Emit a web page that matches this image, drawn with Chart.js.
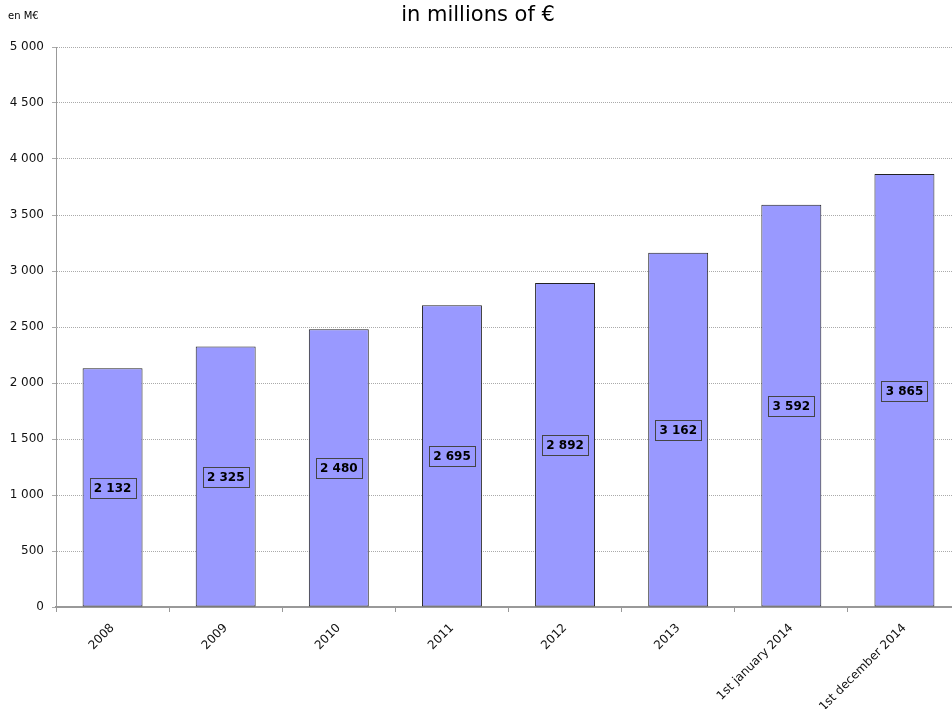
<html>
<head>
  <title>Chart</title>
  <script src="https://cdn.jsdelivr.net/npm/chart.js"></script>
  <style>
    body { margin: 0; background: #fff; overflow: hidden; }
    #wrap { width: 961px; height: 709px; }
  </style>
</head>
<body>
  <div id="wrap"><canvas id="barChart"></canvas></div>

  <script>
    // Chart data
    const categories = ['2008', '2009', '2010', '2011', '2012', '2013', '1st january 2014', '1st december 2014'];
    const values = [2132, 2325, 2480, 2695, 2892, 3162, 3592, 3865];
    const yTicks = [0, 500, 1000, 1500, 2000, 2500, 3000, 3500, 4000, 4500, 5000];

    const tickFont = { family: 'DejaVu Sans', size: 12 };

    // format 3865 -> "3 865"
    function fmt(v) {
      return String(v).replace(/\B(?=(\d{3})+(?!\d))/g, ' ');
    }

    // boxed value labels in the middle of each bar + header texts
    const labelPlugin = {
      id: 'labels',
      afterDatasetsDraw(chart) {
        const ctx = chart.ctx;
        const meta = chart.getDatasetMeta(0);
        const yScale = chart.scales.y;
        ctx.save();
        ctx.font = 'bold 12px "DejaVu Sans"';
        ctx.textAlign = 'center';
        ctx.textBaseline = 'middle';
        meta.data.forEach((bar, i) => {
          const v = values[i];
          const y = yScale.getPixelForValue(v / 2);
          const txt = fmt(v);
          const w = Math.round(ctx.measureText(txt).width + 8);
          const h = 20;
          const x0 = Math.round(bar.x - w / 2) + 0.5;
          const y0 = Math.round(y - h / 2) + 0.5;
          ctx.fillStyle = '#9999ff';
          ctx.fillRect(x0, y0, w, h);
          ctx.strokeStyle = '#444';
          ctx.lineWidth = 1;
          ctx.strokeRect(x0, y0, w, h);
          ctx.fillStyle = '#000';
          ctx.fillText(txt, bar.x, y + 1);
        });
        ctx.fillStyle = '#000';
        ctx.font = '21px "DejaVu Sans"';
        ctx.fillText('in millions of €', 478, 16);
        ctx.font = '10px "DejaVu Sans"';
        ctx.textAlign = 'left';
        ctx.fillText('en M€', 8, 16);
        ctx.restore();
      }
    };

    new Chart(document.getElementById('barChart'), {
      type: 'bar',
      data: {
        labels: categories,
        datasets: [{
          data: values,
          backgroundColor: '#9999ff',
          borderColor: '#222',
          borderWidth: 1,
          borderSkipped: false,
          categoryPercentage: 1,
          barPercentage: 0.53
        }]
      },
      options: {
        responsive: true,
        maintainAspectRatio: false,
        animation: false,
        layout: { padding: { top: 47, right: 0, bottom: 0, left: 0 } },
        plugins: {
          legend: { display: false },
          tooltip: { enabled: false }
        },
        scales: {
          x: {
            grid: { drawOnChartArea: false, color: '#999', tickLength: 5 },
            border: { color: '#999', width: 2 },
            ticks: {
              color: '#111',
              font: tickFont,
              minRotation: 45,
              maxRotation: 45,
              padding: 9
            },
            afterFit(scale) { scale.height = 102; }
          },
          y: {
            min: 0,
            max: 5000,
            afterBuildTicks(scale) { scale.ticks = yTicks.map(v => ({ value: v })); },
            grid: { color: '#aaa', tickLength: 4, tickBorderDash: [] },
            border: { color: '#999', width: 1, dash: [1, 1] },
            ticks: {
              color: '#111',
              font: tickFont,
              padding: 8,
              callback: v => fmt(v)
            },
            afterFit(scale) { scale.width = 56; }
          }
        }
      },
      plugins: [labelPlugin]
    });
  </script>
</body>
</html>
